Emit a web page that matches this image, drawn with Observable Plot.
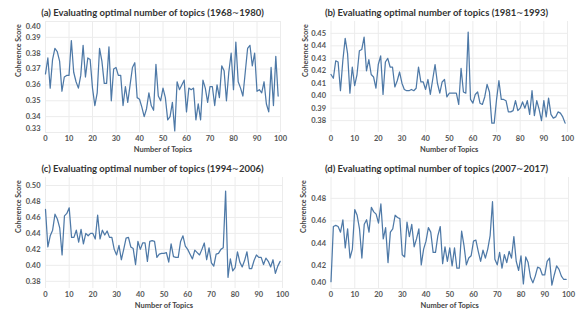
<!DOCTYPE html>
<html>
<head>
<meta charset="utf-8">
<script src="https://cdn.jsdelivr.net/npm/d3@7"></script>
<script src="https://cdn.jsdelivr.net/npm/@observablehq/plot@0.6"></script>
<style>
  html, body { margin: 0; padding: 0; background: #fff; }
  #grid { display: grid; grid-template-columns: 290px 289px; width: 579px; height: 312px; overflow: hidden; }
  .cell { position: relative; height: 156px; }
  .title { height: 21px; box-sizing: border-box; padding-top: 5px; line-height: 16px;
           font-family: Lato, "Open Sans", sans-serif; font-weight: bold; font-size: 9.5px;
           color: #333; text-align: center; white-space: nowrap; }
  .title .tl { font-family: "DejaVu Sans", sans-serif; font-weight: normal; font-size: 8.5px; }
  .cell svg { display: block; }
</style>
</head>
<body>
<div id="grid"></div>
<script>
// ---------- data ----------
const topics = d3.range(0, 100);
const xTicks = [0, 10, 20, 30, 40, 50, 60, 70, 80, 90, 100];

const titles = [
  "(a) Evaluating optimal number of topics (1968~1980)",
  "(b) Evaluating optimal number of topics (1981~1993)",
  "(c) Evaluating optimal number of topics (1994~2006)",
  "(d) Evaluating optimal number of topics (2007~2017)"
];

const scoreA = [
  0.367,0.377,0.358,0.376,0.383,0.381,0.375,0.356,0.365,0.366,
  0.366,0.388,0.368,0.362,0.358,0.366,0.385,0.365,0.377,0.376,
  0.358,0.347,0.355,0.383,0.375,0.361,0.361,0.384,0.350,0.370,
  0.371,0.366,0.366,0.347,0.359,0.349,0.360,0.371,0.374,0.352,
  0.351,0.346,0.340,0.345,0.355,0.347,0.344,0.373,0.353,0.350,
  0.358,0.352,0.338,0.340,0.349,0.331,0.362,0.357,0.360,0.363,
  0.343,0.358,0.357,0.358,0.338,0.348,0.338,0.363,0.358,0.349,
  0.359,0.359,0.347,0.360,0.352,0.372,0.369,0.350,0.368,0.380,
  0.357,0.387,0.362,0.358,0.353,0.368,0.383,0.385,0.372,0.380,
  0.356,0.357,0.355,0.362,0.348,0.343,0.371,0.347,0.378,0.353
];
const scoreB = [
  0.417,0.414,0.428,0.427,0.404,0.428,0.446,0.434,0.402,0.423,
  0.408,0.417,0.436,0.437,0.447,0.420,0.429,0.417,0.415,0.406,
  0.425,0.432,0.401,0.427,0.430,0.423,0.423,0.407,0.412,0.419,
  0.410,0.405,0.404,0.404,0.405,0.404,0.406,0.423,0.411,0.411,
  0.405,0.413,0.401,0.413,0.425,0.410,0.402,0.411,0.413,0.399,
  0.402,0.402,0.402,0.402,0.393,0.422,0.403,0.402,0.451,0.397,
  0.394,0.401,0.403,0.394,0.393,0.399,0.409,0.403,0.378,0.378,
  0.397,0.412,0.397,0.397,0.396,0.387,0.387,0.388,0.396,0.388,
  0.390,0.395,0.390,0.396,0.385,0.404,0.384,0.396,0.389,0.380,
  0.396,0.383,0.398,0.385,0.382,0.383,0.387,0.386,0.383,0.378
];
const scoreC = [
  0.470,0.423,0.437,0.444,0.464,0.458,0.447,0.413,0.462,0.465,
  0.472,0.435,0.435,0.444,0.429,0.445,0.427,0.440,0.437,0.440,
  0.440,0.433,0.463,0.433,0.444,0.438,0.443,0.435,0.435,0.420,
  0.413,0.425,0.407,0.420,0.434,0.435,0.423,0.421,0.401,0.430,
  0.420,0.428,0.428,0.405,0.430,0.431,0.430,0.410,0.414,0.415,
  0.415,0.416,0.404,0.427,0.411,0.410,0.410,0.430,0.437,0.424,
  0.420,0.414,0.408,0.419,0.416,0.413,0.420,0.428,0.407,0.422,
  0.403,0.399,0.414,0.415,0.420,0.422,0.493,0.385,0.408,0.393,
  0.397,0.417,0.404,0.398,0.406,0.417,0.396,0.396,0.406,0.413,
  0.410,0.410,0.401,0.409,0.405,0.398,0.407,0.390,0.399,0.405
];
const scoreD = [
  0.406,0.455,0.456,0.455,0.450,0.461,0.436,0.453,0.427,0.435,
  0.470,0.465,0.453,0.427,0.457,0.461,0.450,0.472,0.468,0.466,
  0.458,0.475,0.444,0.454,0.423,0.450,0.453,0.465,0.463,0.462,
  0.430,0.428,0.459,0.446,0.457,0.437,0.444,0.453,0.421,0.435,
  0.442,0.454,0.450,0.432,0.432,0.447,0.455,0.422,0.437,0.424,
  0.436,0.420,0.436,0.418,0.418,0.451,0.438,0.421,0.427,0.429,
  0.442,0.443,0.433,0.424,0.434,0.427,0.435,0.447,0.477,0.426,
  0.421,0.432,0.418,0.430,0.423,0.433,0.427,0.446,0.424,0.416,
  0.429,0.404,0.428,0.423,0.410,0.405,0.411,0.419,0.418,0.412,
  0.412,0.424,0.427,0.403,0.412,0.420,0.417,0.411,0.408,0.408
];

const yTicksA = [0.33, 0.34, 0.35, 0.36, 0.37, 0.38, 0.39, 0.40];
const yTicksB = [0.38, 0.39, 0.40, 0.41, 0.42, 0.43, 0.44, 0.45];
const yTicksC = [0.38, 0.40, 0.42, 0.44, 0.46, 0.48, 0.50];
const yTicksD = [0.40, 0.42, 0.44, 0.46, 0.48];

// ---------- drawing ----------
const FONT = "Lato, 'Open Sans', sans-serif";
const LINE = "#4e79a7";
const GRID = "#ececec";

function panel({values, domain, yTicks, width, marginLeft, marginRight, yTitleX, topShift = 0, bottomShift = 0}) {
  const data = values.map((v, i) => ({topic: topics[i], score: v}));
  const top = yTicks[yTicks.length - 1];
  const bottom = yTicks[0];
  const mid = yTicks.filter(t => !(topShift && t === top) && !(bottomShift && t === bottom));
  const tickText = {frameAnchor: "left", textAnchor: "end", dx: -5, fontSize: 7.5, fontWeight: "bold", fill: "#555",
                    y: d => d, text: d => d.toFixed(2)};
  const marks = [
    Plot.gridY(yTicks, {stroke: GRID, strokeOpacity: 1}),
    Plot.gridX(xTicks, {stroke: GRID, strokeOpacity: 1}),
    Plot.axisX(xTicks, {tickSize: 0, tickPadding: 3, fontSize: 7.5, fontWeight: "bold", fill: "#555", label: null}),
    Plot.text(mid, tickText)
  ];
  if (topShift) marks.push(Plot.text([top], {...tickText, dy: topShift}));
  if (bottomShift) marks.push(Plot.text([bottom], {...tickText, dy: -bottomShift}));
  marks.push(
    Plot.line(data, {x: "topic", y: "score", stroke: LINE, strokeWidth: 1.25}),
    Plot.text(["Number of Topics"], {frameAnchor: "bottom", dy: 19, fontSize: 7.5, fontWeight: "bold", fill: "#444"}),
    Plot.text(["Coherence Score"], {frameAnchor: "left", rotate: -90, dx: -(marginLeft - yTitleX), fontSize: 7, fontWeight: "bold", fill: "#444"})
  );
  return Plot.plot({
    width, height: 135,
    marginTop: 0, marginBottom: 24, marginLeft, marginRight,
    style: {fontFamily: FONT, background: "transparent", overflow: "visible"},
    x: {domain: [0, 100]},
    y: {domain, axis: null},
    marks
  });
}

const configs = [
  {values: scoreA, domain: [0.33, 0.40], yTicks: yTicksA, width: 290, marginLeft: 45, marginRight: 10, yTitleX: 18, topShift: 5, bottomShift: 4, pad: 15},
  {values: scoreB, domain: [0.3705, 0.4595], yTicks: yTicksB, width: 289, marginLeft: 40.5, marginRight: 12, yTitleX: 15, pad: 4},
  {values: scoreC, domain: [0.371, 0.510], yTicks: yTicksC, width: 290, marginLeft: 45, marginRight: 8, yTitleX: 18, pad: 15},
  {values: scoreD, domain: [0.40, 0.4985], yTicks: yTicksD, width: 289, marginLeft: 40.5, marginRight: 11, yTitleX: 13, bottomShift: 5.5, pad: 4}
];

const grid = document.getElementById("grid");
configs.forEach((cfg, k) => {
  const cell = document.createElement("div");
  cell.className = "cell";
  const t = document.createElement("div");
  t.className = "title";
  t.style.paddingLeft = cfg.pad + "px";
  const parts = titles[k].split("~");
  parts.forEach((p, j) => {
    t.appendChild(document.createTextNode(p));
    if (j < parts.length - 1) {
      const s = document.createElement("span");
      s.className = "tl";
      s.textContent = "~";
      t.appendChild(s);
    }
  });
  cell.appendChild(t);
  cell.appendChild(panel(cfg));
  grid.appendChild(cell);
});
</script>
</body>
</html>
